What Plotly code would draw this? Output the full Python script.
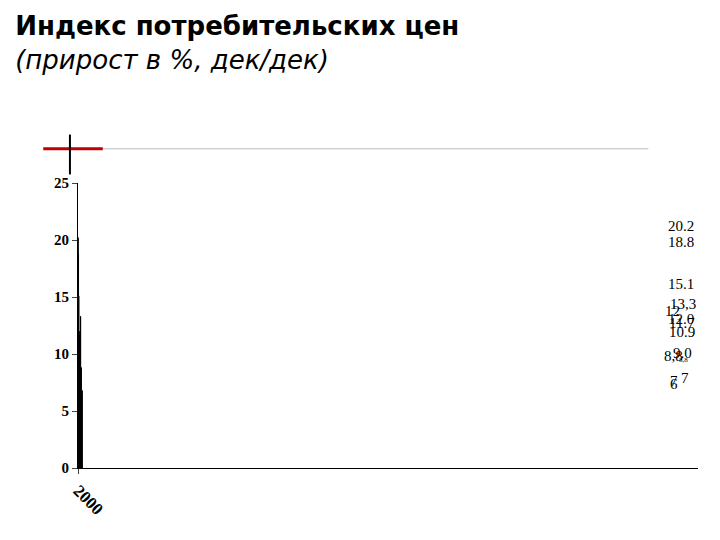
import plotly.graph_objects as go

years = ["2000", "2001", "2002", "2003", "2004", "2005", "2006",
         "2007", "2008", "2009", "2010", "2011", "2012", "2013"]
cpi = [20.2, 18.8, 15.1, 12.0, 11.7, 10.9, 9.0, 12.0, 13.3, 8.8, 8.8, 6.3, 6.6, 6.8]
labels = ["20.2", "18.8", "15.1", "12.0", "11.7", "10.9", "9.0",
          "12", "13,3", "8,8", "8,8", "6", "7", "7"]

fig = go.Figure(go.Bar(
    x=years, y=cpi, width=0.55,
    marker=dict(color="#99CCFF", line=dict(color="black", width=1)),
))

for i, (yr, v, lab) in enumerate(zip(years, cpi, labels)):
    small = lab == "8,8" and i == 10
    fig.add_annotation(x=yr, y=v, text=lab, showarrow=False, yanchor="bottom",
                       xshift=-18 if i in (7, 9, 11, 12) else -8,
                       yshift=2 if i != 7 else 10 if i == 7 else 2,
                       font=dict(family="Liberation Serif", size=7 if small else 15, color="black"))

fig.add_shape(type="line", xref="paper", yref="paper", x0=-0.056, x1=0.92, y0=1.12, y1=1.12,
              line=dict(color="#BBBBBB", width=1))
fig.add_shape(type="line", xref="paper", yref="paper", x0=-0.056, x1=0.04, y0=1.12, y1=1.12,
              line=dict(color="#C00000", width=3))
fig.add_shape(type="line", xref="paper", yref="paper", x0=-0.013, x1=-0.013, y0=1.03, y1=1.17,
              line=dict(color="black", width=2))

fig.update_layout(
    width=720, height=540, plot_bgcolor="white", paper_bgcolor="white",
    margin=dict(l=70, r=30, t=175, b=80),
    showlegend=False,
    title=dict(text="<b>Индекс потребительских цен</b><br><i>(прирост в %, дек/дек)</i>",
               x=0.01, y=0.95, xanchor="left", yanchor="top",
               font=dict(family="DejaVu Sans", size=26, color="black")),
    xaxis=dict(type="category", tickangle=45, showline=True, linecolor="black", ticks="outside",
               tickfont=dict(family="Liberation Serif", size=17, color="black", weight="bold")),
    yaxis=dict(range=[0, 25], dtick=5, showgrid=False, showline=True, linecolor="black",
               ticks="outside", zeroline=False,
               tickfont=dict(family="Liberation Serif", size=15, color="black", weight="bold")),
)
fig.write_html("out.html")
